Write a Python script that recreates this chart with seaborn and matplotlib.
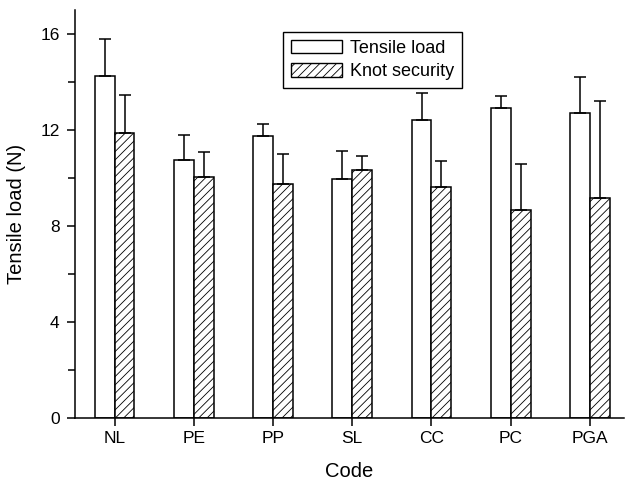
import numpy as np
import pandas as pd
import seaborn as sns
import matplotlib.pyplot as plt
from matplotlib.patches import Patch
from matplotlib.ticker import MultipleLocator

# ===== 数据 =====
codes = ["NL", "PE", "PP", "SL", "CC", "PC", "PGA"]
tensile_load = [14.24, 10.77, 11.74, 9.95, 12.41, 12.94, 12.71]
tensile_err = [1.56, 1.01, 0.50, 1.17, 1.13, 0.47, 1.52]
knot_security = [11.89, 10.06, 9.74, 10.35, 9.63, 8.66, 9.17]
knot_err = [1.59, 1.02, 1.25, 0.55, 1.10, 1.94, 4.03]
series_names = ["Tensile load", "Knot security"]

df = pd.DataFrame({
    "Code": codes * 2,
    "value": tensile_load + knot_security,
    "series": [series_names[0]] * len(codes) + [series_names[1]] * len(codes),
})

sns.set_style("ticks", {"axes.edgecolor": "black", "text.color": "black",
                        "xtick.color": "black", "ytick.color": "black",
                        "axes.labelcolor": "black"})
plt.rcParams["font.family"] = ["Liberation Sans", "DejaVu Sans"]
plt.rcParams["hatch.linewidth"] = 0.6

fig = plt.figure(figsize=(6.25, 4.84), dpi=100)
ax = fig.add_axes([0.12, 0.1364, 0.8784, 0.8426])

sns.barplot(data=df, x="Code", y="value", hue="series", order=codes,
            hue_order=series_names, width=0.5, errorbar=None,
            palette=["white", "white"], edgecolor="black", linewidth=1.1,
            legend=False, ax=ax)

# 斜线填充 + 单向误差棒
hatches = ["", "////"]
errs = [tensile_err, knot_err]
for cont, hatch, err in zip(ax.containers, hatches, errs):
    xs, ys = [], []
    for bar in cont:
        bar.set_hatch(hatch)
        xs.append(bar.get_x() + bar.get_width() / 2)
        ys.append(bar.get_height())
    ax.errorbar(xs, ys, yerr=[np.zeros(len(err)), err], fmt="none",
                ecolor="black", elinewidth=1.1, capsize=4.5, capthick=1.1,
                zorder=1)

ax.set_xlim(-0.5, 6.43)
ax.set_ylim(0, 17)
ax.yaxis.set_major_locator(MultipleLocator(4))
ax.yaxis.set_minor_locator(MultipleLocator(2))
ax.tick_params(axis="both", which="major", labelsize=12.5, width=1.1,
               length=6, direction="out")
ax.tick_params(axis="y", which="major", pad=5)
ax.tick_params(axis="y", which="minor", width=1.1, length=5)
ax.tick_params(axis="x", pad=3.5)
for s in ["left", "bottom"]:
    ax.spines[s].set_linewidth(1.1)
sns.despine(ax=ax)

ax.set_xlabel("Code", fontsize=14.5, labelpad=11.5)
ax.set_ylabel("Tensile load (N)", fontsize=14.5, labelpad=10)

handles = [Patch(facecolor="white", edgecolor="black", linewidth=1.0),
           Patch(facecolor="white", edgecolor="black", linewidth=1.0, hatch="////")]
leg = ax.legend(handles, series_names, loc="upper left",
                bbox_to_anchor=(0.379, 0.947), fontsize=13, frameon=True,
                fancybox=False, edgecolor="black", framealpha=1,
                handlelength=2.8, handleheight=0.75, handletextpad=0.45,
                borderpad=0.45, labelspacing=0.35, borderaxespad=0)
leg.get_frame().set_linewidth(1.0)

fig.savefig("out.png", dpi=100)
